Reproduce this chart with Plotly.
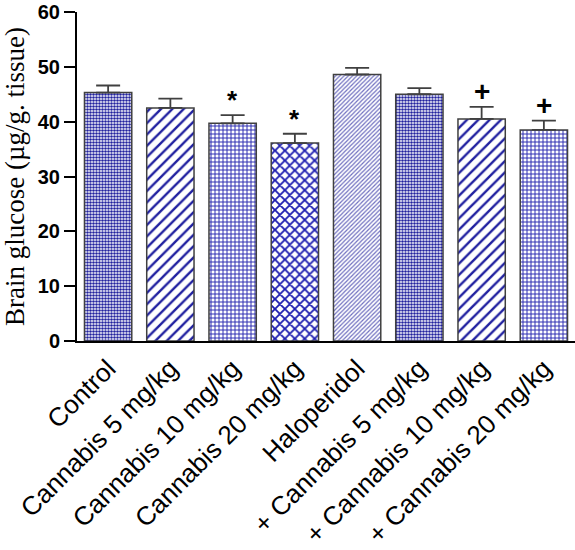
import plotly.graph_objects as go

categories = ["Control", "Cannabis 5 mg/kg", "Cannabis 10 mg/kg", "Cannabis 20 mg/kg",
              "Haloperidol", "+ Cannabis 5 mg/kg", "+ Cannabis 10 mg/kg", "+ Cannabis 20 mg/kg"]
means = [45.3, 42.5, 39.7, 36.1, 48.6, 45.0, 40.5, 38.5]
sems = [1.3, 1.7, 1.5, 1.7, 1.2, 1.1, 2.2, 1.7]
signif = ["", "", "*", "*", "", "", "+", "+"]
y_ticks = [0, 10, 20, 30, 40, 50, 60]

shapes = [".", "/", "+", "x", "/", ".", "/", "+"]
fg = ["#22229e", "#2020a0", "#2828b0", "#1e1eb0", "#7070c0", "#22229e", "#2020a0", "#2828b0"]
bg = ["#7070d4", "white", "#dcdcff", "white", "white", "#7070d4", "white", "#dcdcff"]
psize = [3, 8, 4, 7, 3, 3, 8, 4]
psol = [0.55, 0.3, 0.42, 0.45, 0.4, 0.55, 0.3, 0.42]

fig = go.Figure()
fig.add_trace(go.Bar(
    x=categories, y=means,
    marker=dict(
        color=fg,
        line=dict(color="#404040", width=1.5),
        pattern=dict(shape=shapes, fgcolor=fg, bgcolor=bg, size=psize,
                     solidity=psol, fillmode="replace", fgopacity=1),
    ),
    error_y=dict(type="data", symmetric=False, array=sems,
                 arrayminus=[0] * len(sems), color="#404040",
                 thickness=1.8, width=12),
    width=0.76,
))

for c, m, s, t in zip(categories, means, sems, signif):
    if t:
        fig.add_annotation(x=c, y=m + s, text="<b>" + t + "</b>", showarrow=False,
                           yshift=15, font=dict(size=28 if t == "+" else 26, color="black",
                                                family="Liberation Sans"))

fig.update_layout(
    width=575, height=550,
    margin=dict(l=77, r=0, t=12, b=209),
    plot_bgcolor="white", paper_bgcolor="white",
    showlegend=False,
    font=dict(family="Liberation Sans", color="black"),
)
fig.update_xaxes(
    tickangle=-45, tickfont=dict(size=26, family="Liberation Sans", color="black"),
    showline=True, linecolor="black", linewidth=2, ticks="", automargin=False,
    range=[-0.5, 7.5], showgrid=False,
)
fig.update_yaxes(
    range=[0, 60], tickvals=y_ticks, ticks="outside", ticklen=11, tickwidth=2,
    tickcolor="black", showline=True, linecolor="black", linewidth=2,
    showgrid=False, zeroline=False, automargin=False, ticklabeloverflow="allow",
    tickfont=dict(size=20, family="Liberation Sans", color="black", weight="bold"),
    title=dict(text="Brain glucose (µg/g. tissue)", standoff=6,
               font=dict(size=27, family="Liberation Serif", color="black")),
)

fig.write_html("out.html", config={"displayModeBar": False},
               post_script="document.body.style.margin='0px';")
